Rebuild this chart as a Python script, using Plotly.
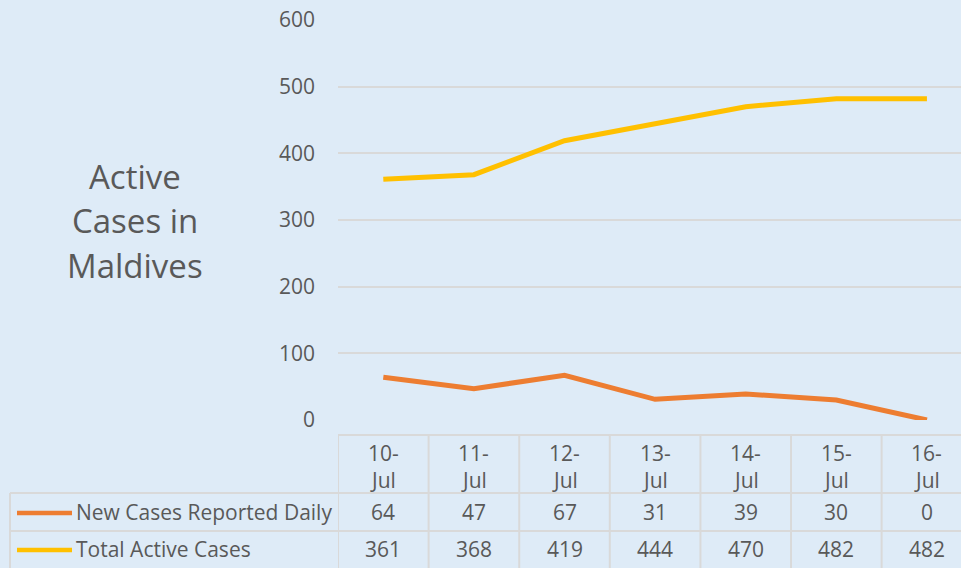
import plotly.graph_objects as go

categories = ["10-Jul", "11-Jul", "12-Jul", "13-Jul", "14-Jul", "15-Jul", "16-Jul"]
new_cases = [64, 47, 67, 31, 39, 30, 0]
total_active = [361, 368, 419, 444, 470, 482, 482]
series_names = ["New Cases Reported Daily", "Total Active Cases"]
series_colors = ["#ED7D31", "#FFC000"]
title_lines = ["Active", "Cases in", "Maldives"]
y_ticks = [0, 100, 200, 300, 400, 500, 600]

W, H = 961, 568
BG = "#DEEBF7"
GRID = "#D9D9D9"
TXT = "#595959"
FONT = "Open Sans"

def py(px):
    return (H - px) / H

x_idx = list(range(len(categories)))
fig = go.Figure()
for name, vals, col in [(series_names[1], total_active, series_colors[1]),
                        (series_names[0], new_cases, series_colors[0])]:
    fig.add_trace(go.Scatter(x=x_idx, y=vals, mode="lines", name=name,
                             line=dict(color=col, width=5), hoverinfo="skip"))

shapes = []
annotations = []

def txt(x, y, text, size, xref="paper", xanchor="center"):
    annotations.append(dict(x=x, y=y, xref=xref, yref="paper", text=text, xanchor=xanchor,
                            yanchor="middle", showarrow=False,
                            font=dict(size=size, color=TXT, family=FONT)))

# table geometry
top, hdr_bot, r1_bot, r2_bot = 435, 493, 531, 572
shapes.append(dict(type="line", xref="x", yref="paper", x0=-0.5, x1=7, y0=py(top), y1=py(top),
                   line=dict(color=GRID, width=2)))
for yy in [hdr_bot, r1_bot]:
    shapes.append(dict(type="line", xref="paper", yref="paper", x0=10 / W, x1=1.02, y0=py(yy), y1=py(yy),
                       line=dict(color=GRID, width=2)))
shapes.append(dict(type="line", xref="paper", yref="paper", x0=10 / W, x1=10 / W,
                   y0=py(hdr_bot), y1=py(r2_bot), line=dict(color=GRID, width=2)))
for i in range(len(categories)):
    shapes.append(dict(type="line", xref="x", yref="paper", x0=i - 0.5, x1=i - 0.5,
                       y0=py(top), y1=py(r2_bot), line=dict(color=GRID, width=2)))

fs = 21
for i, c in enumerate(categories):
    d, m = c.split("-")
    txt(i, py(453), d + "-", fs, xref="x")
    txt(i, py(480), m, fs, xref="x")
    txt(i, py(512), str(new_cases[i]), fs, xref="x")
    txt(i, py(549), str(total_active[i]), fs, xref="x")

for name, col, yc in [(series_names[0], series_colors[0], 512), (series_names[1], series_colors[1], 549)]:
    shapes.append(dict(type="line", xref="paper", yref="paper", x0=17 / W, x1=72 / W, y0=py(yc + 1), y1=py(yc + 1),
                       line=dict(color=col, width=4.5)))
    txt(74 / W, py(yc), name, fs, xanchor="left")

for k, t in enumerate(title_lines):
    txt(135 / W, py(176 + 44.5 * k), t, 33)

fig.update_layout(
    width=W, height=H, margin=dict(l=0, r=0, t=0, b=0, autoexpand=False),
    paper_bgcolor=BG, plot_bgcolor=BG, showlegend=False,
    xaxis=dict(domain=[338 / W, 1], range=[-0.5, 6.376], showgrid=False, showticklabels=False,
               zeroline=False, showline=False, fixedrange=True, automargin=False),
    yaxis=dict(domain=[py(420), py(20)], range=[0, 600], tickvals=y_ticks, automargin=False,
               gridcolor=GRID, gridwidth=1.5, zeroline=False, showline=False, ticks="",
               tickfont=dict(size=fs, color=TXT, family=FONT), ticklabelstandoff=22,
               fixedrange=True),
    shapes=shapes, annotations=annotations,
)
fig.write_html("out.html", config={"displayModeBar": False},
               post_script="document.body.style.margin='0';document.body.style.overflow='hidden';")
